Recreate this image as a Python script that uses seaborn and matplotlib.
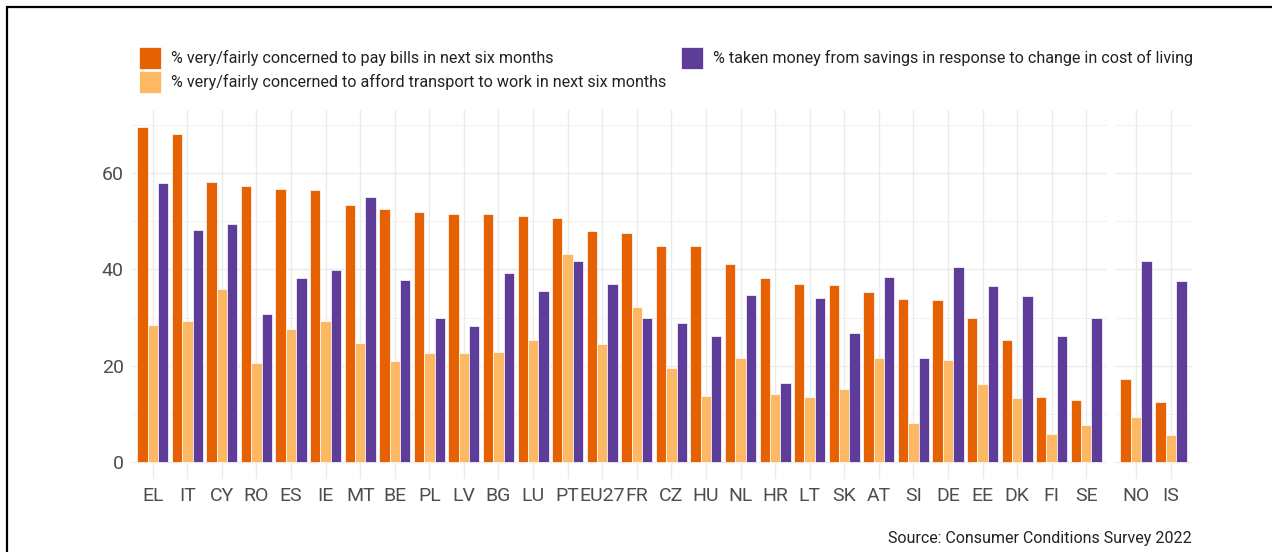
import pandas as pd
import numpy as np
import seaborn as sns
import matplotlib.pyplot as plt
from matplotlib.patches import Patch, Rectangle

# values (Consumer Conditions Survey 2022)
countries = ['EL', 'IT', 'CY', 'RO', 'ES', 'IE', 'MT', 'BE', 'PL', 'LV', 'BG', 'LU', 'PT', 'EU27',
             'FR', 'CZ', 'HU', 'NL', 'HR', 'LT', 'SK', 'AT', 'SI', 'DE', 'EE', 'DK', 'FI', 'SE']
non_eu = ['NO', 'IS']

bills = [69.6, 68.2, 58.1, 57.2, 56.7, 56.5, 53.4, 52.5, 51.9, 51.4, 51.4, 51.0, 50.7, 47.9,
         47.5, 44.8, 44.8, 41.1, 38.2, 36.9, 36.7, 35.4, 33.8, 33.6, 29.8, 25.4, 13.6, 12.8]
transport = [28.5, 29.2, 36.0, 20.5, 27.6, 29.2, 24.8, 21.0, 22.6, 22.6, 22.8, 25.3, 43.1, 24.4,
             32.2, 19.5, 13.8, 21.5, 14.2, 13.6, 15.1, 21.7, 8.0, 21.2, 16.3, 13.3, 5.8, 7.6]
savings = [57.9, 48.2, 49.5, 30.7, 38.2, 39.9, 55.0, 37.8, 29.9, 28.3, 39.3, 35.6, 41.7, 36.9,
           29.8, 28.9, 26.2, 34.7, 16.4, 34.0, 26.8, 38.5, 21.7, 40.4, 36.5, 34.5, 26.1, 30.0]

bills_non_eu = [17.3, 12.4]
transport_non_eu = [9.3, 5.6]
savings_non_eu = [41.7, 37.6]

series_names = ['% very/fairly concerned to pay bills in next six months',
                '% very/fairly concerned to afford transport to work in next six months',
                '% taken money from savings in response to change in cost of living']
colours = ['#E66101', '#FDB863', '#5E3C99']


def long_table(cats, a, b, c):
    # stack the three series into one long table for seaborn
    rows = []
    for name, vals in zip(series_names, [a, b, c]):
        for cat, v in zip(cats, vals):
            rows.append({'country': cat, 'series': name, 'value': v})
    return pd.DataFrame(rows)


eu_df = long_table(countries, bills, transport, savings)
non_eu_df = long_table(non_eu, bills_non_eu, transport_non_eu, savings_non_eu)

sns.set_theme(style='white')
plt.rcParams['font.family'] = ['Roboto', 'DejaVu Sans']

W, H = 1272, 552
fig = plt.figure(figsize=(W / 100, H / 100), dpi=100)
bottom = 1 - 478.8 / H
top = 1 - 110 / H
ax1 = fig.add_axes([132 / W, bottom, (1107 - 132) / W, top - bottom])
ax2 = fig.add_axes([1115 / W, bottom, (1192 - 1115) / W, top - bottom])

palette = dict(zip(series_names, colours))
for ax, df, cats in [(ax1, eu_df, countries), (ax2, non_eu_df, non_eu)]:
    sns.barplot(data=df, x='country', y='value', hue='series', order=cats,
                hue_order=series_names, palette=palette, width=0.9, gap=0,
                saturation=1, edgecolor='white', linewidth=0.5, legend=False, ax=ax)
    ax.set_xlim(-0.6, len(cats) - 0.4)
    ax.set_ylim(-3.48, 73.08)
    ax.set_yticks([0, 20, 40, 60])
    ax.set_yticks([10, 30, 50, 70], minor=True)
    ax.set_xlabel('')
    ax.set_ylabel('')
    ax.grid(True, which='major', axis='both', color='#ebebeb', linewidth=1.0)
    ax.grid(True, which='minor', axis='y', color='#f2f2f2', linewidth=0.8)
    ax.set_axisbelow(True)
    for s in ax.spines.values():
        s.set_visible(False)
    ax.tick_params(axis='both', which='both', length=0, labelsize=14,
                   labelcolor='#4d4d4d', pad=6)

ax2.tick_params(axis='y', labelleft=False)

handles = [Patch(facecolor=c, edgecolor='white', linewidth=0.5) for c in colours]
fig.legend(handles, series_names, loc='upper left', ncol=2, frameon=False,
           bbox_to_anchor=(139 / W, 1 - 47 / H), fontsize=11.6, borderpad=0,
           borderaxespad=0, handlelength=1.37, handleheight=1.72, handletextpad=0.62,
           labelspacing=0.12, columnspacing=0.9, labelcolor='#222222')

fig.text(1192 / W, 1 - 538 / H, 'Source: Consumer Conditions Survey 2022',
         ha='right', va='center', fontsize=11.5, color='#222222')

# black frame around the figure (cut at right/bottom as in the reference)
fig.add_artist(Rectangle((6.5 / W, -0.1), 1.2, 1 - 6.5 / H + 0.1, transform=fig.transFigure,
                         fill=False, edgecolor='black', linewidth=1.6, clip_on=False))

fig.savefig('out.png', dpi=100, facecolor='white')
